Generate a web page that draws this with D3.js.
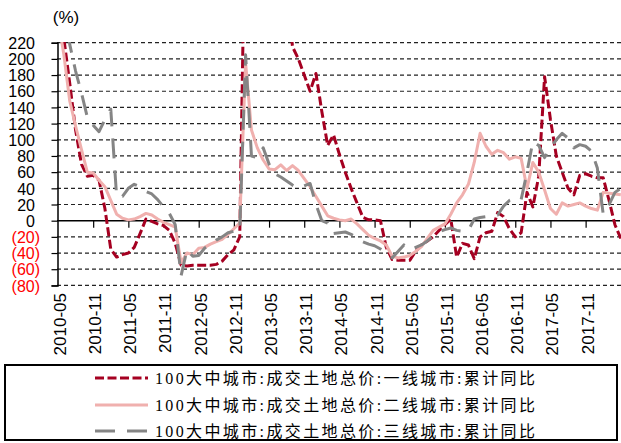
<!DOCTYPE html>
<html>
<head>
<meta charset="utf-8">
<script src="https://cdn.jsdelivr.net/npm/d3@7"></script>
<style>
  body { margin: 0; background: #fff; }
  text { font-family: "Liberation Sans", Arial, sans-serif; }
</style>
</head>
<body>
<svg id="chart" width="621" height="443"></svg>
<script>
// months 2010-05 .. 2018-05
const months = d3.timeMonth.range(new Date(2010, 4, 1), new Date(2018, 5, 1)).map(d3.timeFormat("%Y-%m"));

// 一线城市
const tier1 = [300, 225, 170, 112, 70, 55, 56, 50, 15, -35,
  -45, -42, -40, -33, -16, 2, -1, -4, -6, -12,
  -28, -55, -56, -55, -55, -55, -55, -54, -50, -42,
  -36, -20, 420, 600, 560, 520, 480, 420, 360, 290,
  215, 200, 180, 160, 182, 135, 93, 106, 82, 60,
  40, 22, 4, 1, 1, 0, -33, -48, -49, -49,
  -49, -38, -30, -25, -20, -12, -5, 2, -45, -28,
  -30, -47, -20, -15, -13, 10, 5, -10, -20, -15,
  35, 17, 55, 178, 125, 80, 60, 40, 32, 56,
  58, 55, 53, 53, 25, -5, -22];

// 二线城市
const tier2 = [250, 205, 148, 117, 88, 60, 59, 50, 42, 25,
  8, 3, 1, 2, 5, 9, 7, 2, -2, -5,
  -8, -52, -40, -42, -34, -33, -29, -26, -23, -17,
  -10, -3, 195, 112, 90, 75, 64, 63, 69, 62,
  68, 62, 52, 42, 30, 18, 6, 3, 1, 0,
  2, -4, -11, -18, -22, -25, -30, -44, -46, -45,
  -43, -38, -32, -22, -12, -8, -4, 8, 22, 32,
  45, 72, 108, 92, 82, 87, 84, 76, 79, 77,
  40, 72, 60, 38, 15, 8, 22, 18, 20, 22,
  18, 15, 13, 35, 34, 33, 32];

// 三线城市
const tier3 = [350, 280, 218, 185, 158, 128, 118, 110, 125, 138,
  30, 30, 40, 45, 42, 36, 33, 26, 17, 9,
  -5, -68, -36, -44, -43, -34, -30, -24, -20, -15,
  -13, -13, 205, 80, 78, 90, 70, 58, 54, 49,
  44, 40, 43, 46, 20, 0, -3, -16, -15, -14,
  -17, -21, -26, -29, -31, -35, -40, -46, -38, -30,
  -36, -33, -30, -25, -19, -14, -11, -9, -12, -13,
  -12, 2, 4, 5, 6, 7, 18, 25, 28, 26,
  60, 98, 93, 78, 90, 100, 108, 102, 90, 94,
  92, 86, 65, 8, 20, 35, 40];

const yTicks = [220, 200, 180, 160, 140, 120, 100, 80, 60, 40, 20, 0, -20, -40, -60, -80];
const xTickLabels = months.filter((m, i) => i % 6 === 0 && i <= 90);
const legendNames = [
  "100大中城市:成交土地总价:一线城市:累计同比",
  "100大中城市:成交土地总价:二线城市:累计同比",
  "100大中城市:成交土地总价:三线城市:累计同比"
];

const svg = d3.select("#chart");

const x = d3.scalePoint().domain(months).range([58, 620.8]);
const y = d3.scaleLinear().domain([-80, 220]).range([285.4, 42.7]);

// horizontal grid
svg.append("g")
  .selectAll("line")
  .data(yTicks.filter(d => d !== 0))
  .join("line")
  .attr("x1", 57).attr("x2", 621)
  .attr("y1", d => y(d)).attr("y2", d => y(d))
  .attr("stroke", "#222")
  .attr("stroke-width", 1.2)
  .attr("stroke-dasharray", "4,3");

// y axis
const yAxis = svg.append("g")
  .attr("transform", "translate(57.5,0)")
  .call(d3.axisLeft(y).tickValues(yTicks).tickSize(6).tickFormat(""));
yAxis.select(".domain").attr("stroke", "#000").attr("stroke-width", 1.5);
yAxis.selectAll(".tick line").attr("stroke", "#000").attr("stroke-width", 1.2);

svg.append("g")
  .selectAll("text")
  .data(yTicks)
  .join("text")
  .attr("x", d => d < 0 ? 40 : 35)
  .attr("y", d => y(d))
  .attr("dy", "0.36em")
  .attr("text-anchor", "end")
  .attr("font-size", 16)
  .attr("transform", d => `translate(0,${y(d)}) scale(1,1.08) translate(0,${-y(d)})`)
  .attr("fill", d => d < 0 ? "#ff0000" : "#000")
  .text(d => d < 0 ? "(" + (-d) + ")" : d);

svg.append("text")
  .attr("x", 66).attr("y", 23)
  .attr("text-anchor", "middle")
  .attr("font-size", 17)
  .text("(%)");

// x axis on zero line
const xAxis = svg.append("g")
  .attr("transform", `translate(0,${y(0)})`)
  .call(d3.axisBottom(x).tickValues(xTickLabels.slice(1)).tickSize(7).tickFormat(""));
xAxis.select(".domain").attr("stroke", "#000").attr("stroke-width", 1.5).attr("d", "M57,0H620");
xAxis.selectAll(".tick line").attr("stroke", "#000").attr("stroke-width", 1.2);

svg.append("g")
  .selectAll("text")
  .data(xTickLabels)
  .join("text")
  .attr("transform", d => `translate(${x(d) + 2},293) rotate(-90)`)
  .attr("dy", "0.35em")
  .attr("text-anchor", "end")
  .attr("font-size", 17)
  .text(d => d);

// lines
svg.append("clipPath").attr("id", "plot")
  .append("rect").attr("x", 57).attr("y", 42).attr("width", 564).attr("height", 246);

const line = d3.line().x((d, i) => x(months[i])).y(d => y(d));

const series = [
  { values: tier1, color: "#a50021", dash: "9,3.5", width: 3 },
  { values: tier2, color: "#f0b0ae", dash: null, width: 3 },
  { values: tier3, color: "#858585", dash: "20,12", width: 3 }
];

const lines = svg.append("g").attr("clip-path", "url(#plot)");
series.forEach(s => {
  lines.append("path")
    .datum(s.values)
    .attr("d", line)
    .attr("fill", "none")
    .attr("stroke", s.color)
    .attr("stroke-width", s.width)
    .attr("stroke-dasharray", s.dash)
    .attr("stroke-linejoin", "round");
});

// legend
svg.append("rect")
  .attr("x", 5).attr("y", 365).attr("width", 612).attr("height", 75)
  .attr("fill", "none").attr("stroke", "#000").attr("stroke-width", 2);

const rowY = [378, 405, 431];
series.forEach((s, i) => {
  svg.append("line")
    .attr("x1", 95).attr("x2", 148)
    .attr("y1", rowY[i]).attr("y2", rowY[i])
    .attr("stroke", s.color)
    .attr("stroke-width", s.width)
    .attr("stroke-dasharray", s.dash);
  svg.append("text")
    .attr("x", 155).attr("y", rowY[i])
    .attr("dy", "0.36em")
    .attr("font-size", 16)
    .style("font-family", "'Liberation Serif', 'Noto Sans CJK SC', serif")
    .attr("textLength", 380)
    .attr("lengthAdjust", "spacing")
    .text(legendNames[i]);
});
</script>
</body>
</html>
